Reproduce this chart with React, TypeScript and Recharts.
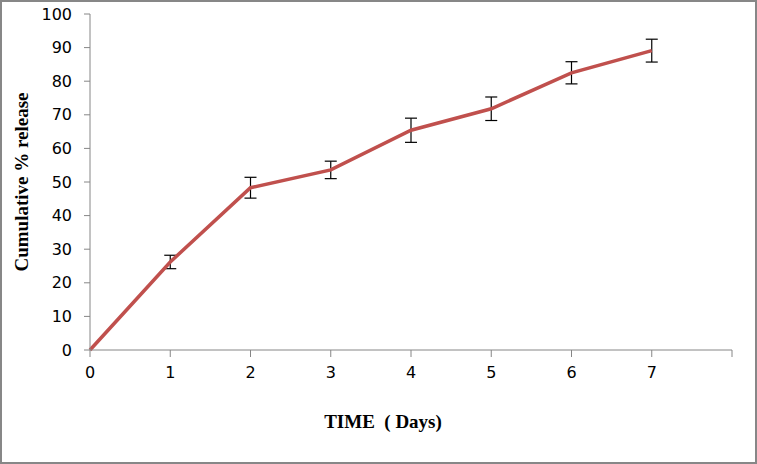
import React from 'react';
import { LineChart, Line, XAxis, YAxis, ErrorBar, Label } from 'recharts';

const days = [0, 1, 2, 3, 4, 5, 6, 7];
const release = [0, 26.2, 48.3, 53.6, 65.4, 71.8, 82.5, 89.1];
const errors = [0, 2.0, 3.1, 2.6, 3.6, 3.5, 3.3, 3.4];
const xTicks = [0, 1, 2, 3, 4, 5, 6, 7, 8];
const yTicks = [0, 10, 20, 30, 40, 50, 60, 70, 80, 90, 100];

const data = days.map((d, i) => ({ day: d, value: release[i], err: errors[i] }));

const AXIS = '#868686';
const tickStyle = { fontFamily: 'DejaVu Sans', fontSize: 16, fill: '#000' };
const titleFont = { fontFamily: 'Liberation Serif', fontWeight: 'bold' as const, fill: '#000' };

// x title sits a bit left of the plot centre, like the original
const XTitle = (props: any) => {
  const vb = props.viewBox;
  return (
    <text
      x={vb.x + vb.width / 2 - 28}
      y={vb.y + 78}
      textAnchor="middle"
      style={{ ...titleFont, fontSize: 19, whiteSpace: 'pre' }}
    >
      {'TIME  ( Days)'}
    </text>
  );
};

const App: React.FC = () => {
  return (
    <div style={{ position: 'absolute', left: 0, top: 0, width: 757, height: 464, background: '#fff' }}>
      <div style={{ position: 'absolute', inset: 0, border: '2px solid #878787', boxSizing: 'border-box' }} />
      <LineChart
        width={757}
        height={464}
        data={data}
        margin={{ top: 14, right: 25, left: 0, bottom: 84 }}
        style={{ position: 'absolute', left: 0, top: 0 }}
      >
        <XAxis
          dataKey="day"
          type="number"
          domain={[0, 8]}
          ticks={xTicks}
          tickFormatter={(v: number) => (v === 8 ? '' : String(v))}
          stroke={AXIS}
          tickSize={7}
          tickMargin={10}
          tick={tickStyle}
          height={30}
          interval={0}
        >
          <Label content={XTitle} />
        </XAxis>
        <YAxis
          type="number"
          domain={[0, 100]}
          ticks={yTicks}
          stroke={AXIS}
          tickSize={6}
          tickMargin={12}
          tick={tickStyle}
          width={90}
          interval={0}
        >
          <Label
            value="Cumulative % release"
            angle={-90}
            position="insideLeft"
            offset={21}
            style={{ ...titleFont, fontSize: 19, textAnchor: 'middle' }}
          />
        </YAxis>
        <Line
          dataKey="value"
          stroke="#c0504d"
          strokeWidth={3.5}
          dot={false}
          activeDot={false}
          isAnimationActive={false}
        >
          <ErrorBar dataKey="err" width={6} stroke="#000" strokeWidth={1.2} isAnimationActive={false} />
        </Line>
      </LineChart>
    </div>
  );
};

export default App;
